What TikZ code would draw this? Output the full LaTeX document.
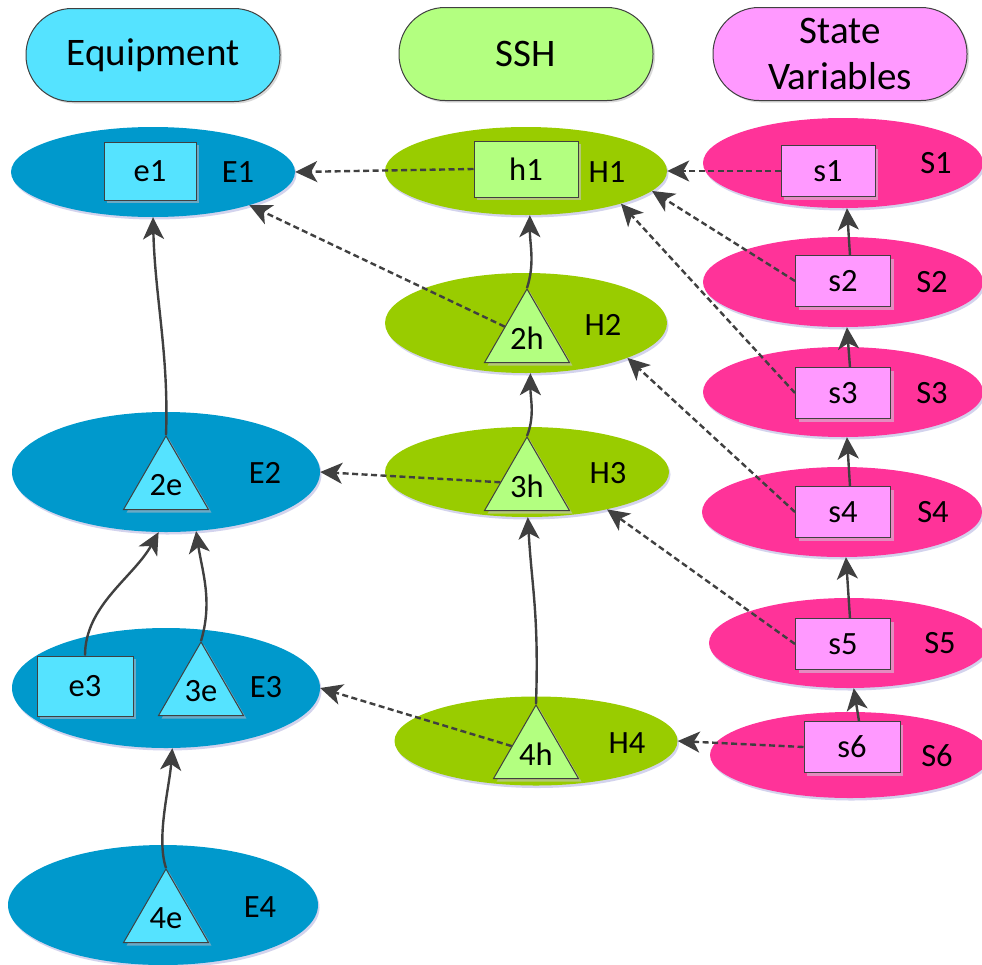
\documentclass[tikz,border=0pt]{standalone}
\usepackage{fontspec}
\setmainfont{Carlito}
\usetikzlibrary{shapes.geometric,shadows,arrows.meta}

\definecolor{eqdark}{HTML}{0099CC}
\definecolor{eqlight}{HTML}{55E3FF}
\definecolor{eqshade}{HTML}{6AAAC6}
\definecolor{sshdark}{HTML}{99CC00}
\definecolor{sshlight}{HTML}{B3FF80}
\definecolor{sshshade}{HTML}{B4C878}
\definecolor{svdark}{HTML}{FF3399}
\definecolor{svlight}{HTML}{FF99FF}
\definecolor{svshade}{HTML}{E48BC0}
\definecolor{edgegray}{HTML}{404040}
\definecolor{halo}{HTML}{C8C8E8}

\begin{document}
\begin{tikzpicture}[x=1pt,y=-1pt,
  header/.style={draw=edgegray, line width=1pt, rounded corners=46pt,
    minimum width=254pt, minimum height=93pt, inner sep=0pt, align=center,
    font=\fontsize{39}{46}\selectfont,
    drop shadow={shadow xshift=2pt,shadow yshift=-2pt,fill=gray!50,opacity=0.6}},
  layer/.style={ellipse, inner sep=0pt, draw=none,
    drop shadow={shadow xshift=1.5pt,shadow yshift=-2.5pt,fill=halo,opacity=0.8}},
  item/.style={draw=edgegray, line width=1pt, inner sep=0pt,
    font=\fontsize{32.5}{38}\selectfont},
  box/.style={item, rectangle, minimum width=95pt, minimum height=51pt},
  tri/.style={item, regular polygon, regular polygon sides=3, minimum size=98pt},
  eq/.style={fill=eqlight, drop shadow={shadow xshift=3pt,shadow yshift=-3pt,fill=eqshade,opacity=1}},
  ssh/.style={fill=sshlight, drop shadow={shadow xshift=3pt,shadow yshift=-3pt,fill=sshshade,opacity=1}},
  sv/.style={fill=svlight, drop shadow={shadow xshift=3pt,shadow yshift=-3pt,fill=svshade,opacity=1}},
  lbl/.style={font=\fontsize{32.5}{38}\selectfont, inner sep=0pt},
  link/.style={draw=edgegray, line width=2.4pt,
    -{Stealth[length=22pt,width=21pt,inset=6pt]}},
  ref/.style={link, dash pattern=on 6pt off 3.5pt},
]
\useasboundingbox (0,0) rectangle (982,964);

% column headers
\node[header, fill=eqlight] (hEq) at (153,55) {Equipment};
\node[header, fill=sshlight] (hSsh) at (526,54) {SSH};
\node[header, fill=svlight] (hSv) at (840,54) {State\\Variables};

% equipment layers
\node[layer, fill=eqdark, minimum width=284pt, minimum height=90pt] (E1) at (153,172) {};
\node[layer, fill=eqdark, minimum width=308pt, minimum height=120pt] (E2) at (166,472) {};
\node[layer, fill=eqdark, minimum width=308pt, minimum height=120pt] (E3) at (166,688) {};
\node[layer, fill=eqdark, minimum width=310pt, minimum height=120pt] (E4) at (163,905) {};

% SSH layers
\node[layer, fill=sshdark, minimum width=282pt, minimum height=88pt] (H1) at (526,171) {};
\node[layer, fill=sshdark, minimum width=282pt, minimum height=100pt] (H2) at (526,323) {};
\node[layer, fill=sshdark, minimum width=284pt, minimum height=90pt] (H3) at (527,472) {};
\node[layer, fill=sshdark, minimum width=283pt, minimum height=89pt] (H4) at (536,741) {};

% state variable layers
\node[layer, fill=svdark, minimum width=280pt, minimum height=90pt] (S1) at (843,163) {};
\node[layer, fill=svdark, minimum width=280pt, minimum height=90pt] (S2) at (843,282) {};
\node[layer, fill=svdark, minimum width=280pt, minimum height=90pt] (S3) at (843,392) {};
\node[layer, fill=svdark, minimum width=280pt, minimum height=90pt] (S4) at (842,512) {};
\node[layer, fill=svdark, minimum width=280pt, minimum height=90pt] (S5) at (849,643) {};
\node[layer, fill=svdark, minimum width=280pt, minimum height=86pt] (S6) at (850,755) {};

% layer names
\node[lbl] (lE1) at (238,172) {E1};
\node[lbl] (lE2) at (265,473) {E2};
\node[lbl] (lE3) at (266,687) {E3};
\node[lbl] (lE4) at (260,907) {E4};
\node[lbl] (lH1) at (607,172) {H1};
\node[lbl] (lH2) at (603,325) {H2};
\node[lbl] (lH3) at (608,473) {H3};
\node[lbl] (lH4) at (627,743) {H4};
\node[lbl] (lS1) at (936,163) {S1};
\node[lbl] (lS2) at (932,282) {S2};
\node[lbl] (lS3) at (932,393) {S3};
\node[lbl] (lS4) at (933,512) {S4};
\node[lbl] (lS5) at (940,643) {S5};
\node[lbl] (lS6) at (937,756) {S6};

% elements inside the layers
\node[box, eq, minimum width=92pt, minimum height=58pt] (e1) at (150,171) {e1};
\node[box, eq, minimum width=96pt, minimum height=60pt] (e3) at (85,686) {e3};
\node[tri, eq] (t2e) at (166,485) {2e};
\node[tri, eq] (t3e) at (201,691) {3e};
\node[tri, eq] (t4e) at (166,918) {4e};

\node[box, ssh, minimum width=104pt, minimum height=56pt] (h1) at (526,169) {h1};
\node[tri, ssh] (t2h) at (527,338) {2h};
\node[tri, ssh] (t3h) at (527,486) {3h};
\node[tri, ssh] (t4h) at (536,754) {4h};

\node[box, sv, minimum width=94pt] (s1) at (828,171) {s1};
\node[box, sv] (s2) at (843,281) {s2};
\node[box, sv] (s3) at (843,393) {s3};
\node[box, sv] (s4) at (843,512) {s4};
\node[box, sv] (s5) at (843,644) {s5};
\node[box, sv, minimum width=96pt] (s6) at (852,747) {s6};

% aggregation links (solid)
\draw[link] (t2e.corner 1) .. controls +(3,-80) and +(2,80) .. (E1.south);
\draw[link] (e3.north) .. controls +(0,-50) and +(-25,45) .. (E2.-97);
\draw[link] (t3e.corner 1) .. controls +(12,-40) and +(6,40) .. (E2.-63);
\draw[link] (t4e.corner 1) .. controls +(-10,-30) and +(-3,40) .. (E3.-84);
\draw[link] (t2h.corner 1) .. controls +(8,-25) and +(0,30) .. (H1.-85);
\draw[link] (t3h.corner 1) .. controls +(8,-20) and +(0,25) .. (H2.-85);
\draw[link] (t4h.corner 1) .. controls +(3,-90) and +(4,70) .. (H3.-89);
\draw[link] (s2.75) -- (S1.-85);
\draw[link] (s3.75) -- (S2.-85);
\draw[link] (s4.75) -- (S3.-85);
\draw[link] (s5.75) -- (S4.-85);
\draw[link] (s6.75) -- (S5.-84);

% reference links (dashed)
\draw[ref] (h1.west) -- (E1.east);
\draw[ref] (t2h.153) -- (E1.-19);
\draw[ref] (t3h.172) -- (E2.east);
\draw[ref] (t4h.162) -- (E3.east);
\draw[ref] (s1.west) -- (H1.east);
\draw[ref] (s2.west) -- (H1.-9);
\draw[ref] (s3.west) -- (H1.-19);
\draw[ref] (s4.west) -- (H2.-19);
\draw[ref] (s5.west) -- (H3.-25);
\draw[ref] (s6.west) -- (H4.east);
\end{tikzpicture}
\end{document}
